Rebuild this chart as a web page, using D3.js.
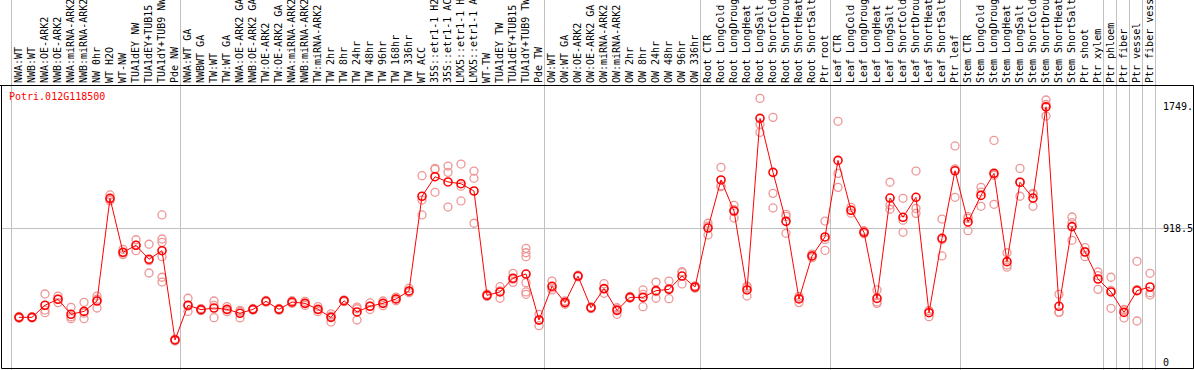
<!DOCTYPE html>
<html>
<head>
<meta charset="utf-8">
<script src="https://cdn.jsdelivr.net/npm/d3@7"></script>
<style>
  body { margin: 0; background: #fff; }
  svg { display: block; }
  text { font-family: "DejaVu Sans Mono", monospace; font-size: 10px; }
</style>
</head>
<body>
<svg id="chart" width="1194" height="370"></svg>
<script>
// sample names, one per column
var samples = [
  "NWA:WT","NWB:WT","NWA:OE-ARK2","NWB:OE-ARK2","NWA:miRNA-ARK2","NWB:miRNA-ARK2","NW 0hr","WT H2O","WT-NW",
  "TUA1dEY NW","TUA1dEY+TUB15 NW","TUA1dY+TUB9 NW","Pde NW",
  "NWA:WT GA","NWBWT GA","TW:WT","TW:WT GA","NWA:OE-ARK2 GA","NWB:OE-ARK2 GA","TW:OE-ARK2","TW:OE-ARK2 GA",
  "NWA:miRNA-ARK2","NWB:miRNA-ARK2","TW:miRNA-ARK2","TW 2hr","TW 8hr","TW 24hr","TW 48hr","TW 96hr","TW 168hr","TW 336hr",
  "WT ACC","35S::etr1-1 H2O","35S::etr1-1 ACC","LMX5::etr1-1 H2O","LMX5::etr1-1 ACC","WT-TW",
  "TUA1dEY TW","TUA1dEY+TUB15 TW","TUA1dY+TUB9 TW","Pde TW",
  "OW:WT","OW:WT GA","OW:OE-ARK2","OW:OE-ARK2 GA","OW:miRNA-ARK2","OW:miRNA-ARK2","OW 2hr","OW 8hr","OW 24hr","OW 48hr","OW 96hr","OW 336hr",
  "Root CTR","Root LongCold","Root LongDrought","Root LongHeat","Root LongSalt","Root ShortCold","Root ShortDrought","Root ShortHeat","Root ShortSalt","Ptr root",
  "Leaf CTR","Leaf LongCold","Leaf LongDrought","Leaf LongHeat","Leaf LongSalt","Leaf ShortCold","Leaf ShortDrought","Leaf ShortHeat","Leaf ShortSalt","Ptr leaf",
  "Stem CTR","Stem LongCold","Stem LongDrought","Stem LongHeat","Stem LongSalt","Stem ShortCold","Stem ShortDrought","Stem ShortHeat","Stem ShortSalt",
  "Ptr shoot","Ptr xylem","Ptr phloem","Ptr fiber","Ptr vessel","Ptr fiber vessel"
];

// mean expression per sample
var means = [
  306,306,389,430,327,347,418,1122,752,800,704,763,151,
  389,359,370,361,334,361,416,361,411,402,361,306,420,343,382,402,432,487,
  1136,1270,1234,1222,1172,457,480,574,603,288,
  519,407,589,372,503,354,443,443,489,498,589,514,
  918,1248,1035,494,1670,1300,964,432,727,857,
  1382,1040,889,436,1124,992,1129,338,848,1311,
  960,1142,1293,688,1232,1124,1749,382,928,754,569,480,340,489,514
];

// individual replicates per sample
var replicates = [
  [300,306,312],[302,306,310],[466,356,338],[452,407,430],[375,297,310],[409,297,335],[452,370,430],
  [1145,1106,1115],[772,736,748],[838,763,800],[807,610,695],[1008,843,820,722,581,548],[145,151,157],
  [437,347,383],[352,359,366],[418,304,388],[380,345,358],[347,302,353],[355,361,367],[410,416,422],
  [355,361,367],[420,411,402],[416,402,388],[380,345,358],[330,274,314],[414,420,426],[365,288,376],
  [405,382,360],[418,386,402],[445,420,432],[505,475,482],
  [1277,1110,1008],[1327,1320,1163],[1343,1300,1062],[1357,1104,1205],[1309,1259,951],[465,450,457],
  [516,437,487],[608,546,568],[779,749,722,544,480,464],[327,249,288],
  [555,494,508],[418,396,407],[583,589,595],[366,372,378],[537,471,501],[372,327,363],[437,443,449],
  [494,463,379],[548,437,482],[555,434,505],[619,535,613],[522,505,514],
  [951,871,932],[1334,1202,1208],[1074,987,1044],[510,452,520],[1807,1629,1574],[1677,1156,1056],
  [1012,882,998],[450,407,439],[740,715,727],[966,765,840],
  [1650,1293,1197],[1060,1020,1040],[900,880,889],[494,402,412],[1232,1076,1047],[1122,972,889],
  [1309,1053,1019],[350,311,352],[980,727,838],[1481,1129,1323],
  [996,900,984],[1197,1165,1067],[1519,1081,1280],[749,665,650],[1327,1136,1233],[1156,1067,1150],
  [1796,1686,1765],[464,340,342],[994,834,956],[784,722,756],[617,498,592],[581,368,491],[360,302,358],
  [690,281,496],[608,459,475]
];

// a gray separator is drawn after these sample indices
var separators = [12, 40, 52, 62, 72, 83, 84, 85, 86, 87];

var yTicks = [0, 918.5, 1749];
var yTickLabels = ["0", "918.5", "1749."];
var geneName = "Potri.012G118500";

var W = 1194, H = 370;
var headerBottom = 85;
var svg = d3.select("#chart");

var x = d3.scaleBand().domain(d3.range(samples.length)).range([11, 1155]).padding(0);
var cx = function(i){ return x(i) + 8; };
var y = d3.scaleLinear().domain([0, 1837]).range([362, 94]);

// vertical separators (through header and plot)
svg.append("g").selectAll("line")
  .data([-1].concat(separators))
  .enter().append("line")
  .attr("x1", function(d){ return d < 0 ? x(0) + 0.5 : x(d) + x.bandwidth() + 0.5; })
  .attr("x2", function(d){ return d < 0 ? x(0) + 0.5 : x(d) + x.bandwidth() + 0.5; })
  .attr("y1", 0).attr("y2", H)
  .attr("stroke", "#c0c0c0").attr("stroke-width", 1);

// horizontal mid gridline
svg.append("line")
  .attr("x1", 1).attr("x2", W - 1)
  .attr("y1", Math.round(y(918.5)) + 0.5).attr("y2", Math.round(y(918.5)) + 0.5)
  .attr("stroke", "#c0c0c0");

// frame
svg.append("path")
  .attr("d", "M0," + (headerBottom + 0.5) + "H" + (W - 0.5) + "V" + (H - 1.5) + "H1.5V" + (headerBottom + 0.5))
  .attr("fill", "none").attr("stroke", "#000");

// sample labels, rotated
svg.append("g").selectAll("text")
  .data(samples)
  .enter().append("text")
  .attr("transform", function(d, i){ return "translate(" + (x(i) + 11) + "," + (headerBottom - 2) + ") rotate(-90)"; })
  .attr("fill", "#000")
  .text(function(d){ return d; });

// right-hand value labels
svg.append("g").selectAll("text")
  .data(yTicks)
  .enter().append("text")
  .attr("x", 1163)
  .attr("y", function(d){ return y(d); })
  .attr("dy", "0.35em")
  .attr("fill", "#000")
  .text(function(d, i){ return yTickLabels[i]; });

svg.append("text")
  .attr("x", 9).attr("y", 100)
  .attr("fill", "#ff0000")
  .text(geneName);

// replicates
var reps = [];
replicates.forEach(function(r, i){ r.forEach(function(v){ reps.push({i: i, v: v}); }); });
svg.append("g").selectAll("circle")
  .data(reps)
  .enter().append("circle")
  .attr("cx", function(d){ return cx(d.i); })
  .attr("cy", function(d){ return y(d.v); })
  .attr("r", 4)
  .attr("fill", "none")
  .attr("stroke", "#ee9696")
  .attr("stroke-width", 1.3);

// mean line
svg.append("path")
  .datum(means)
  .attr("d", d3.line().x(function(d, i){ return cx(i); }).y(function(d){ return y(d); }))
  .attr("fill", "none")
  .attr("stroke", "#ff0000")
  .attr("stroke-width", 1);

svg.append("g").selectAll("circle")
  .data(means)
  .enter().append("circle")
  .attr("cx", function(d, i){ return cx(i); })
  .attr("cy", function(d){ return y(d); })
  .attr("r", 4)
  .attr("fill", "none")
  .attr("stroke", "#ff0000")
  .attr("stroke-width", 1.6);
</script>
</body>
</html>
